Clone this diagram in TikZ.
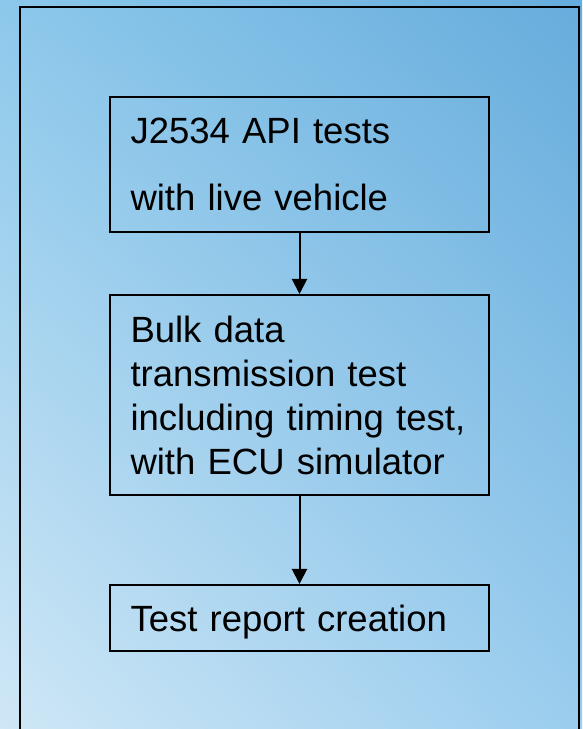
\documentclass[tikz,border=0pt]{standalone}
\usepackage{fontspec}
\setmainfont{Liberation Sans}
\usetikzlibrary{positioning,arrows.meta,shadings}
\definecolor{bgtl}{HTML}{8CC8EB}
\definecolor{bgtr}{HTML}{66ACDC}
\definecolor{bgbl}{HTML}{CFE7F6}
\definecolor{bgbr}{HTML}{9ACDEE}

\begin{document}
\begin{tikzpicture}[x=1pt, y=1pt, >={Triangle[width=15pt,length=15pt]},
  stage/.style={draw, line width=2pt, minimum width=379pt, text width=338pt,
    inner xsep=20.5pt, align=left, font=\fontsize{36.5}{44}\selectfont}]

% background and frame
\clip (0,0) rectangle (582,729);
\shade[upper left=bgtl, upper right=bgtr, lower left=bgbl, lower right=bgbr]
  (0,0) rectangle (582,729);
\draw[line width=2pt] (20,-10) rectangle (579,721.5);

\node[stage, minimum height=135pt, anchor=north] (api) at (299.5,633)
  {J2534 API tests\\[23pt]with live vehicle};
\node[stage, minimum height=200pt, below=61pt of api] (bulk)
  {Bulk data\\transmission test\\including timing test,\\with ECU simulator};
\node[stage, minimum height=66pt, text depth=0pt, below=88pt of bulk] (report)
  {Test report creation};

\draw[->, line width=2pt] (api) -- (bulk);
\draw[->, line width=2pt] (bulk) -- (report);

\end{tikzpicture}
\end{document}
